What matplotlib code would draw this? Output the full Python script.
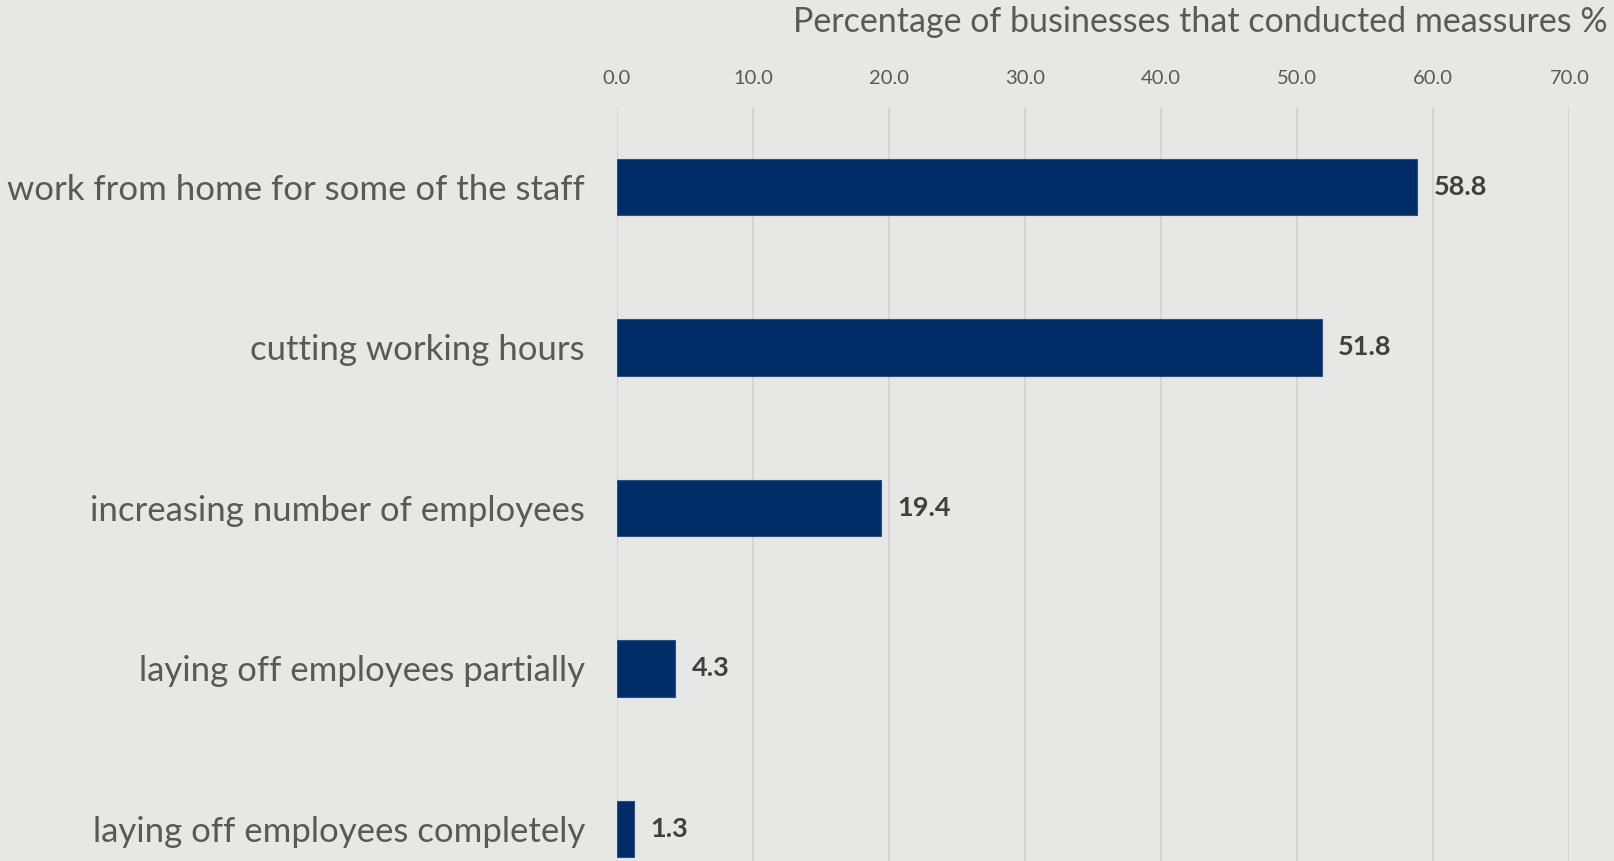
import matplotlib
matplotlib.use("Agg")
import matplotlib.pyplot as plt

measures = [
    "work from home for some of the staff",
    "cutting working hours",
    "increasing number of employees",
    "laying off employees partially",
    "laying off employees completely",
]
shares = [58.8, 51.8, 19.4, 4.3, 1.3]
ticks = [0, 10, 20, 30, 40, 50, 60, 70]
axis_title = "Percentage of businesses that conducted meassures %"

bg = "#E7E7E5"
navy = "#002D67"
grey = "#595959"
dark = "#404040"

plt.rcParams["font.family"] = ["Lato", "DejaVu Sans"]

fig = plt.figure(figsize=(16.14, 8.61), dpi=100, facecolor=bg)
ax = fig.add_axes([0.3821, 0.0, 0.9724 - 0.3821, 0.876])
ax.set_facecolor(bg)

ypos = list(range(len(measures)))
ax.barh(ypos, shares, height=0.35, color=navy, edgecolor="#2F4F80",
        linewidth=0.8, zorder=3)

for y, v in zip(ypos, shares):
    ax.text(v + 1.2, y, f"{v:.1f}", va="center", ha="left",
            fontsize=19.5, fontweight="bold", color=dark, zorder=4)

ax.set_xlim(0, 70)
ax.set_ylim(4.2, -0.5)
ax.set_xticks(ticks)
ax.set_xticklabels([f"{t:.1f}" for t in ticks], fontsize=14.5, color=grey)
ax.xaxis.tick_top()
ax.tick_params(axis="x", length=0, pad=14)
ax.set_yticks(ypos)
ax.set_yticklabels(measures, fontsize=25, color=grey)
ax.tick_params(axis="y", length=0, pad=23)
ax.grid(axis="x", color="#D3D3D1", linewidth=1.3, zorder=0)
for s in ax.spines.values():
    s.set_visible(False)

fig.text(0.9963, 0.975, axis_title, ha="right", va="center",
         fontsize=24.5, color=grey)

fig.savefig("out.png", dpi=100, facecolor=bg)
